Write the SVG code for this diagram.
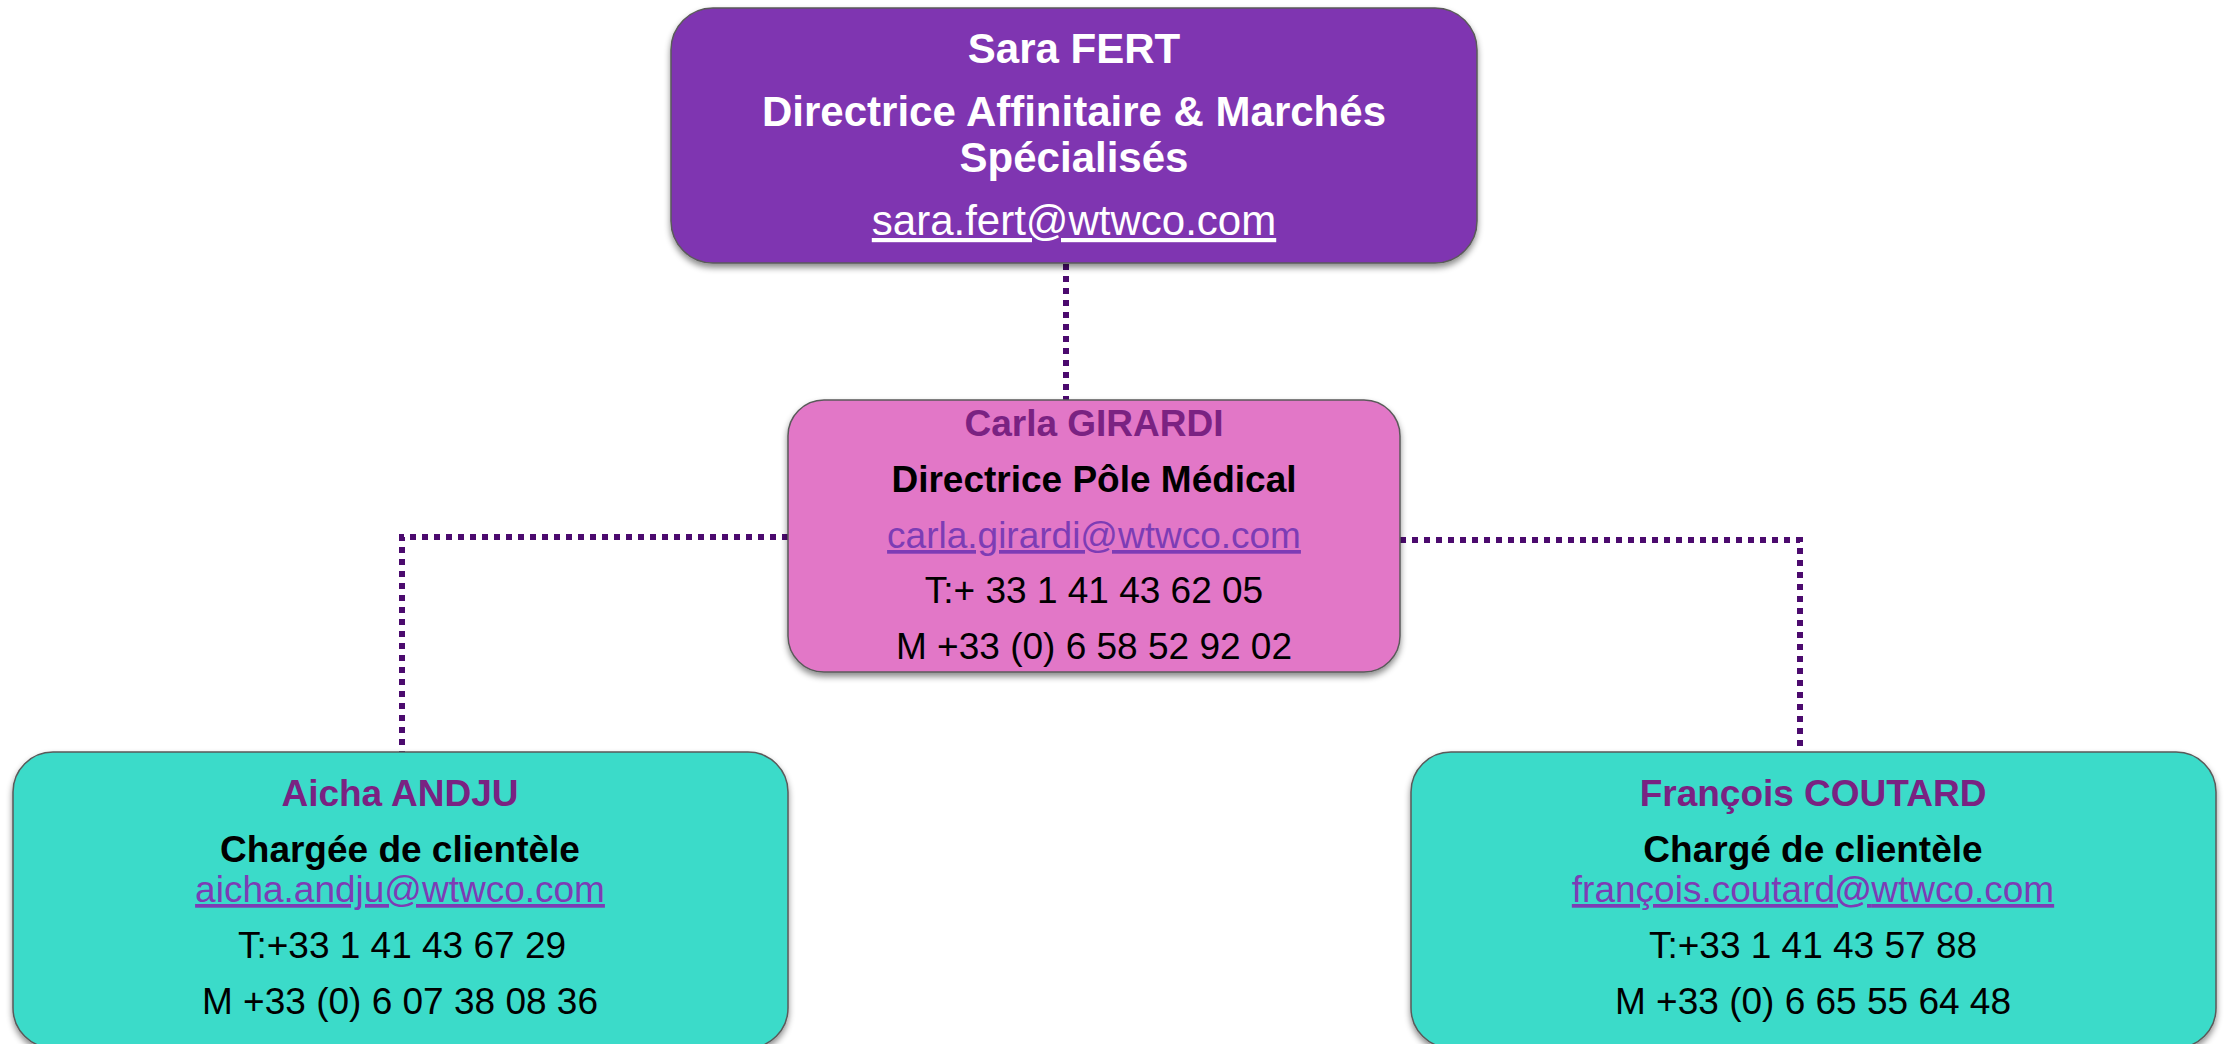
<svg xmlns="http://www.w3.org/2000/svg" width="2226" height="1044" viewBox="0 0 2226 1044">
<defs>
<filter id="sh" x="-5%" y="-5%" width="110%" height="120%">
<feDropShadow dx="0" dy="4" stdDeviation="3" flood-color="#000" flood-opacity="0.45"/>
</filter>
<style>
text{font-family:"Liberation Sans",Arial,sans-serif;text-anchor:middle}
.box{stroke:#5a5a5a;stroke-width:1.5;filter:url(#sh)}
.top{fill:#7F34B1}
.mid{fill:#E277C7}
.low{fill:#3BDBC9}
.t42{font-size:42px}
.t37{font-size:37px}
.b{font-weight:bold}
.w{fill:#ffffff}
.nm{fill:#7A2282;font-weight:bold}
.k{fill:#000000}
.em{fill:#7D3CB5;text-decoration:underline}
.conn{fill:none;stroke:#4B0A6E;stroke-width:6;stroke-dasharray:6 6}
</style>
</defs>
<rect width="2226" height="1044" fill="#ffffff"/>
<g id="connectors">
<path class="conn" d="M1066 264 V400"/>
<path class="conn" d="M788 537 H402 V752"/>
<path class="conn" d="M1400 540 H1800 V752"/>
</g>
<g id="sara-fert">
<rect class="box top" x="671" y="8" width="806" height="255" rx="42"/>
<text class="t42 b w" x="1074" y="63">Sara FERT</text>
<text class="t42 b w" x="1074" y="126">Directrice Affinitaire &amp; Marchés</text>
<text class="t42 b w" x="1074" y="172">Spécialisés</text>
<text class="t42 w" x="1074" y="235" text-decoration="underline">sara.fert@wtwco.com</text>
</g>
<g id="carla-girardi">
<rect class="box mid" x="788" y="400" width="612" height="272" rx="36"/>
<text class="t37 nm" x="1094" y="436">Carla GIRARDI</text>
<text class="t37 b k" x="1094" y="492">Directrice Pôle Médical</text>
<text class="t37 em" x="1094" y="548">carla.girardi@wtwco.com</text>
<text class="t37 k" x="1094" y="603">T:+ 33 1 41 43 62 05</text>
<text class="t37 k" x="1094" y="659">M +33 (0) 6 58 52 92 02</text>
</g>
<g id="aicha-andju">
<rect class="box low" x="13" y="752" width="775" height="296" rx="40"/>
<text class="t37 nm" x="400" y="806">Aicha ANDJU</text>
<text class="t37 b k" x="400" y="862">Chargée de clientèle</text>
<text class="t37 em" x="400" y="902">aicha.andju@wtwco.com</text>
<text class="t37 k" x="402" y="958">T:+33 1 41 43 67 29</text>
<text class="t37 k" x="400" y="1014">M +33 (0) 6 07 38 08 36</text>
</g>
<g id="francois-coutard">
<rect class="box low" x="1411" y="752" width="805" height="296" rx="40"/>
<text class="t37 nm" x="1813" y="806">François COUTARD</text>
<text class="t37 b k" x="1813" y="862">Chargé de clientèle</text>
<text class="t37 em" x="1813" y="902">françois.coutard<tspan font-weight="bold">@</tspan>wtwco.com</text>
<text class="t37 k" x="1813" y="958">T:+33 1 41 43 57 88</text>
<text class="t37 k" x="1813" y="1014">M +33 (0) 6 65 55 64 48</text>
</g>
</svg>
